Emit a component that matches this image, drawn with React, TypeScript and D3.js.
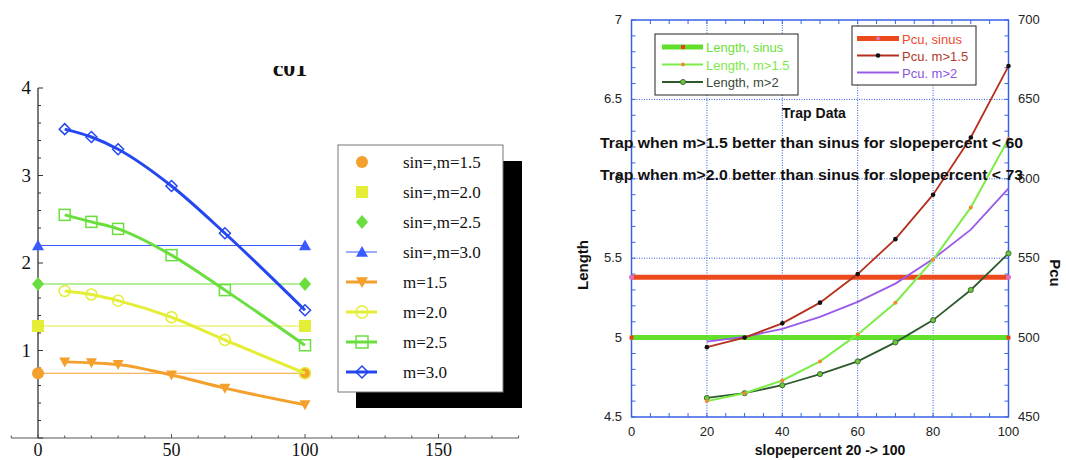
import React from "react";
import * as d3 from "d3";

// ---------- Left chart data ----------
const leftX = [10, 20, 30, 50, 70, 100];
const m15 = [0.87, 0.86, 0.84, 0.72, 0.57, 0.38];
const m20 = [1.68, 1.64, 1.57, 1.38, 1.12, 0.74];
const m25 = [2.55, 2.47, 2.39, 2.09, 1.69, 1.06];
const m30 = [3.53, 3.44, 3.30, 2.88, 2.34, 1.46];
const sinX = [0, 100];
const sinVals = [0.74, 1.28, 1.76, 2.2];
const leftLegendLabels = ["sin=,m=1.5", "sin=,m=2.0", "sin=,m=2.5", "sin=,m=3.0", "m=1.5", "m=2.0", "m=2.5", "m=3.0"];
const leftXTicks = [0, 50, 100, 150];
const leftYTicks = [1, 2, 3, 4];

// ---------- Right chart data ----------
const slopeX = [20, 30, 40, 50, 60, 70, 80, 90, 100];
const lenM15 = [4.60, 4.65, 4.73, 4.85, 5.02, 5.22, 5.49, 5.82, 6.25];
const lenM2 = [4.62, 4.65, 4.70, 4.77, 4.85, 4.97, 5.11, 5.30, 5.53];
const pcuM15 = [494, 500, 509, 522, 540, 562, 590, 626, 671];
const pcuM2 = [497.5, 500.5, 505.5, 513, 522.5, 534, 549.5, 568, 594];
const sinEnds = [0, 100];
const lenSin = 5.0;
const pcuSin = 538;
const rightXTicks = [0, 20, 40, 60, 80, 100];
const lenTicks = [4.5, 5, 5.5, 6, 6.5, 7];
const pcuTicks = [450, 500, 550, 600, 650, 700];
const lenTickLabels = ["4.5", "5", "5.5", "6", "6.5", "7"];
const legendA = ["Length, sinus", "Length, m>1.5", "Length, m>2"];
const legendB = ["Pcu, sinus", "Pcu. m>1.5", "Pcu. m>2"];
const noteLines = [
  "Trap when m>1.5 better than sinus for slopepercent < 60",
  "Trap when m>2.0 better than sinus for slopepercent < 73",
];

const ORANGE = "#f4a02c";
const YELLOW = "#e4ee36";
const GREEN = "#6ade3c";
const BLUE = "#2447f0";

function Marker({ kind, x, y, color, size = 6 }: any) {
  const s = size;
  switch (kind) {
    case "circle":
      return <circle cx={x} cy={y} r={s} fill={color} />;
    case "square":
      return <rect x={x - s} y={y - s} width={2 * s} height={2 * s} fill={color} />;
    case "diamond":
      return <path d={`M${x},${y - s - 1}L${x + s},${y}L${x},${y + s + 1}L${x - s},${y}Z`} fill={color} />;
    case "tri":
      return <path d={`M${x},${y - s}L${x + s},${y + s * 0.8}L${x - s},${y + s * 0.8}Z`} fill={color} />;
    case "tridown":
      return <path d={`M${x},${y + s}L${x + s},${y - s * 0.8}L${x - s},${y - s * 0.8}Z`} fill={color} />;
    case "ocircle":
      return <circle cx={x} cy={y} r={s} fill="none" stroke={color} strokeWidth={1.5} />;
    case "osquare":
      return <rect x={x - s} y={y - s} width={2 * s} height={2 * s} fill="none" stroke={color} strokeWidth={1.5} />;
    case "odiamond":
      return <path d={`M${x},${y - s}L${x + s},${y}L${x},${y + s}L${x - s},${y}Z`} fill="white" fillOpacity={0} stroke={color} strokeWidth={1.5} />;
    default:
      return null;
  }
}

function LeftChart() {
  const x = d3.scaleLinear().domain([0, 100]).range([38, 305]);
  const y = d3.scaleLinear().domain([0, 4]).range([438, 88]);
  const line = d3.line<number>().x((_, i) => x(leftX[i])).y((d) => y(d)).curve(d3.curveMonotoneX);
  const mSeries = [
    { vals: m15, color: ORANGE, kind: "tridown" },
    { vals: m20, color: YELLOW, kind: "ocircle" },
    { vals: m25, color: GREEN, kind: "osquare" },
    { vals: m30, color: BLUE, kind: "odiamond" },
  ];
  const sinSeries = [
    { v: sinVals[0], color: ORANGE, kind: "circle" },
    { v: sinVals[1], color: YELLOW, kind: "square" },
    { v: sinVals[2], color: GREEN, kind: "diamond" },
    { v: sinVals[3], color: "#3a5cff", kind: "tri" },
  ];
  const xMinor = d3.range(-10, 181, 10);
  const yMinor = d3.range(0, 4.01, 0.2);
  const legendItems = [
    ...sinSeries.map((s) => ({ color: s.color, kind: s.kind, line: false })),
    ...mSeries.map((s) => ({ color: s.color, kind: s.kind, line: true })),
  ];
  return (
    <g fontFamily="'Liberation Serif', 'Times New Roman', serif">
      <defs>
        <clipPath id="titleClip">
          <rect x={200} y={66} width={200} height={30} />
        </clipPath>
      </defs>
      <text x={290} y={76} fontSize={24} fontWeight="bold" textAnchor="middle" clipPath="url(#titleClip)" fill="#111">c01</text>
      {/* axes */}
      <line x1={x(-10)} x2={x(180)} y1={y(0)} y2={y(0)} stroke="#555" strokeWidth={1} />
      <line x1={x(0)} x2={x(0)} y1={y(0)} y2={y(4)} stroke="#222" strokeWidth={1.2} />
      {xMinor.map((t) => (
        <line key={"xt" + t} x1={x(t)} x2={x(t)} y1={y(0)} y2={y(0) - (t % 50 === 0 ? 4 : 2.5)} stroke="#555" />
      ))}
      {yMinor.map((t, i) => (
        <line key={"yt" + i} x1={x(0)} x2={x(0) + (Math.abs(t - Math.round(t)) < 1e-6 ? 5 : 3)} y1={y(t)} y2={y(t)} stroke="#333" />
      ))}
      {leftXTicks.map((t) => (
        <text key={"xl" + t} x={x(t)} y={456} fontSize={18} textAnchor="middle" fill="#111">{t}</text>
      ))}
      {leftYTicks.map((t) => (
        <text key={"yl" + t} x={31} y={y(t) + 6} fontSize={19} textAnchor="end" fill="#111">{t}</text>
      ))}
      {/* sin lines */}
      {sinSeries.map((s, i) => (
        <g key={"sin" + i}>
          <line x1={x(sinX[0])} x2={x(sinX[1])} y1={y(s.v)} y2={y(s.v)} stroke={s.color} strokeWidth={1.2} />
          {sinX.map((sx) => (
            <Marker key={sx} kind={s.kind} x={x(sx)} y={y(s.v)} color={s.color} size={6} />
          ))}
        </g>
      ))}
      {/* m lines */}
      {mSeries.map((s, i) => (
        <g key={"m" + i}>
          <path d={line(s.vals) || ""} fill="none" stroke={s.color} strokeWidth={3} />
          {s.vals.map((v, j) => (
            <Marker key={j} kind={s.kind} x={x(leftX[j])} y={y(v)} color={s.color} size={5.5} />
          ))}
        </g>
      ))}
      {/* legend */}
      <rect x={356} y={161} width={166} height={247} fill="#000" />
      <rect x={338} y={145} width={165} height={247} fill="#fff" stroke="#777" strokeWidth={1} />
      {legendItems.map((it, i) => {
        const cy = 162 + i * 30;
        return (
          <g key={"lg" + i}>
            {it.line && <line x1={346} x2={377} y1={cy} y2={cy} stroke={it.color} strokeWidth={3} />}
            {!it.line && it.kind === "tri" && <line x1={346} x2={377} y1={cy} y2={cy} stroke={it.color} strokeWidth={1} />}
            <Marker kind={it.kind} x={362} y={cy} color={it.color} size={6} />
            <text x={403} y={cy + 6} fontSize={17} fill="#111">{leftLegendLabels[i]}</text>
          </g>
        );
      })}
    </g>
  );
}

function RightChart() {
  const x = d3.scaleLinear().domain([0, 100]).range([631.5, 1008.5]);
  const yL = d3.scaleLinear().domain([4.5, 7]).range([417, 20]);
  const yR = d3.scaleLinear().domain([450, 700]).range([417, 20]);
  const lineL = d3.line<number>().x((_, i) => x(slopeX[i])).y((d) => yL(d));
  const lineR = d3.line<number>().x((_, i) => x(slopeX[i])).y((d) => yR(d));
  const frame = "#3a62e6";
  const grid = "#2f55e0";
  const [x0, x1] = x.range();
  const [yb, yt] = yL.range();
  const lenMinor = d3.range(4.5, 7.001, 0.1);
  const pcuMinor = d3.range(450, 700.1, 10);
  const xMinor = d3.range(0, 100.1, 5);
  const LSIN = "#63e02c";
  const LM15 = "#7cec47";
  const LM2 = "#2d5a2d";
  const PSIN = "#ec4a1c";
  const PM15 = "#b5301c";
  const PM2 = "#9a5ae8";
  return (
    <g fontFamily="'Liberation Sans', Arial, Helvetica, sans-serif">
      {/* grid */}
      {[20, 40, 60, 80].map((t) => (
        <line key={"gx" + t} x1={x(t)} x2={x(t)} y1={yt} y2={yb} stroke={grid} strokeWidth={1} strokeDasharray="1,1.5" />
      ))}
      {[5, 5.5, 6, 6.5].map((t) => (
        <line key={"gy" + t} x1={x0} x2={x1} y1={yL(t)} y2={yL(t)} stroke={grid} strokeWidth={1} strokeDasharray="1,1.5" />
      ))}
      {/* frame */}
      <rect x={x0} y={yt} width={x1 - x0} height={yb - yt} fill="none" stroke={frame} strokeWidth={1.5} />
      {lenMinor.map((t, i) => (
        <line key={"lt" + i} x1={x0} x2={x0 + 4} y1={yL(t)} y2={yL(t)} stroke={frame} />
      ))}
      {pcuMinor.map((t, i) => (
        <line key={"pt" + i} x1={x1} x2={x1 - 4} y1={yR(t)} y2={yR(t)} stroke={frame} />
      ))}
      {xMinor.map((t, i) => (
        <g key={"xt" + i}>
          <line x1={x(t)} x2={x(t)} y1={yb} y2={yb - 4} stroke={frame} />
          <line x1={x(t)} x2={x(t)} y1={yt} y2={yt + 4} stroke={frame} />
        </g>
      ))}
      {/* tick labels */}
      {rightXTicks.map((t) => (
        <text key={"xl" + t} x={x(t)} y={436} fontSize={13} textAnchor="middle" fill="#222">{t}</text>
      ))}
      {lenTicks.map((t, i) => (
        <text key={"ll" + i} x={622} y={yL(t) + 4} fontSize={13} textAnchor="end" fill="#222">{lenTickLabels[i]}</text>
      ))}
      {pcuTicks.map((t) => (
        <text key={"pl" + t} x={1018} y={yR(t) + 4} fontSize={13} fill="#222">{t}</text>
      ))}
      <text transform={`translate(588,265) rotate(-90)`} fontSize={15} fontWeight="bold" textAnchor="middle" fill="#111">Length</text>
      <text transform={`translate(1050,273) rotate(90)`} fontSize={15} fontWeight="bold" textAnchor="middle" fill="#111">Pcu</text>
      <text x={830} y={455} fontSize={14} fontWeight="bold" textAnchor="middle" fill="#111">slopepercent 20 -&gt; 100</text>

      {/* sinus lines */}
      <line x1={x(sinEnds[0])} x2={x(sinEnds[1])} y1={yL(lenSin)} y2={yL(lenSin)} stroke={LSIN} strokeWidth={5} />
      <line x1={x(sinEnds[0])} x2={x(sinEnds[1])} y1={yR(pcuSin)} y2={yR(pcuSin)} stroke={PSIN} strokeWidth={5} />
      {sinEnds.map((s) => (
        <g key={"se" + s}>
          <rect x={x(s) - 2} y={yL(lenSin) - 2} width={4} height={4} fill="#e8401a" />
          <circle cx={x(s)} cy={yR(pcuSin)} r={2.5} fill="#e070c0" />
        </g>
      ))}
      {/* curves */}
      <path d={lineR(pcuM2) || ""} fill="none" stroke={PM2} strokeWidth={1.8} />
      <path d={lineR(pcuM15) || ""} fill="none" stroke={PM15} strokeWidth={1.8} />
      {pcuM15.map((v, i) => (
        <circle key={"p15" + i} cx={x(slopeX[i])} cy={yR(v)} r={2.3} fill="#111" />
      ))}
      <path d={lineL(lenM2) || ""} fill="none" stroke={LM2} strokeWidth={1.8} />
      {lenM2.map((v, i) => (
        <circle key={"l2" + i} cx={x(slopeX[i])} cy={yL(v)} r={2.6} fill="#6cc83a" stroke={LM2} strokeWidth={0.8} />
      ))}
      <path d={lineL(lenM15) || ""} fill="none" stroke={LM15} strokeWidth={2} />
      {lenM15.map((v, i) => (
        <circle key={"l15" + i} cx={x(slopeX[i])} cy={yL(v)} r={2} fill="#f08a30" />
      ))}

      {/* annotations */}
      <text x={814} y={118} fontSize={14} fontWeight="bold" textAnchor="middle" fill="#111">Trap Data</text>
      {noteLines.map((t, i) => (
        <text key={"n" + i} x={600} y={148 + i * 32} fontSize={14} fontWeight="bold" fill="#111" textLength={423} lengthAdjust="spacingAndGlyphs">{t}</text>
      ))}

      {/* legend A */}
      <rect x={655} y={34} width={143} height={61} fill="#fff" stroke="#222" strokeWidth={1} />
      {legendA.map((t, i) => {
        const cy = 47 + i * 17.5;
        const stroke = [LSIN, LM15, LM2][i];
        const sw = [5, 2, 2][i];
        return (
          <g key={"la" + i}>
            <line x1={662} x2={703} y1={cy} y2={cy} stroke={stroke} strokeWidth={sw} />
            {i === 0 && <rect x={681} y={cy - 2} width={4} height={4} fill="#e8401a" />}
            {i === 1 && <circle cx={683} cy={cy} r={2} fill="#f08a30" />}
            {i === 2 && <circle cx={683} cy={cy} r={2.6} fill="#6cc83a" stroke={LM2} strokeWidth={0.8} />}
            <text x={706} y={cy + 5} fontSize={13} fill={["#6ee03a", "#7ee84a", "#3a4a3a"][i]}>{t}</text>
          </g>
        );
      })}
      {/* legend B */}
      <rect x={852} y={26} width={124} height={59} fill="#fff" stroke="#222" strokeWidth={1} />
      {legendB.map((t, i) => {
        const cy = 38.5 + i * 17;
        const stroke = [PSIN, PM15, PM2][i];
        const sw = [5, 2, 2][i];
        return (
          <g key={"lb" + i}>
            <line x1={857} x2={899} y1={cy} y2={cy} stroke={stroke} strokeWidth={sw} />
            {i === 0 && <circle cx={878} cy={cy} r={2} fill="#e070c0" />}
            {i === 1 && <circle cx={878} cy={cy} r={2.3} fill="#111" />}
            <text x={902} y={cy + 5} fontSize={13} fill={["#ee4a30", "#b03a28", "#8a55e0"][i]}>{t}</text>
          </g>
        );
      })}
    </g>
  );
}

export default function App() {
  return (
    <svg width={1066} height={460} style={{ position: "absolute", left: 0, top: 0, background: "#fff" }}>
      <rect x={0} y={0} width={1066} height={460} fill="#fff" />
      <LeftChart />
      <RightChart />
    </svg>
  );
}
